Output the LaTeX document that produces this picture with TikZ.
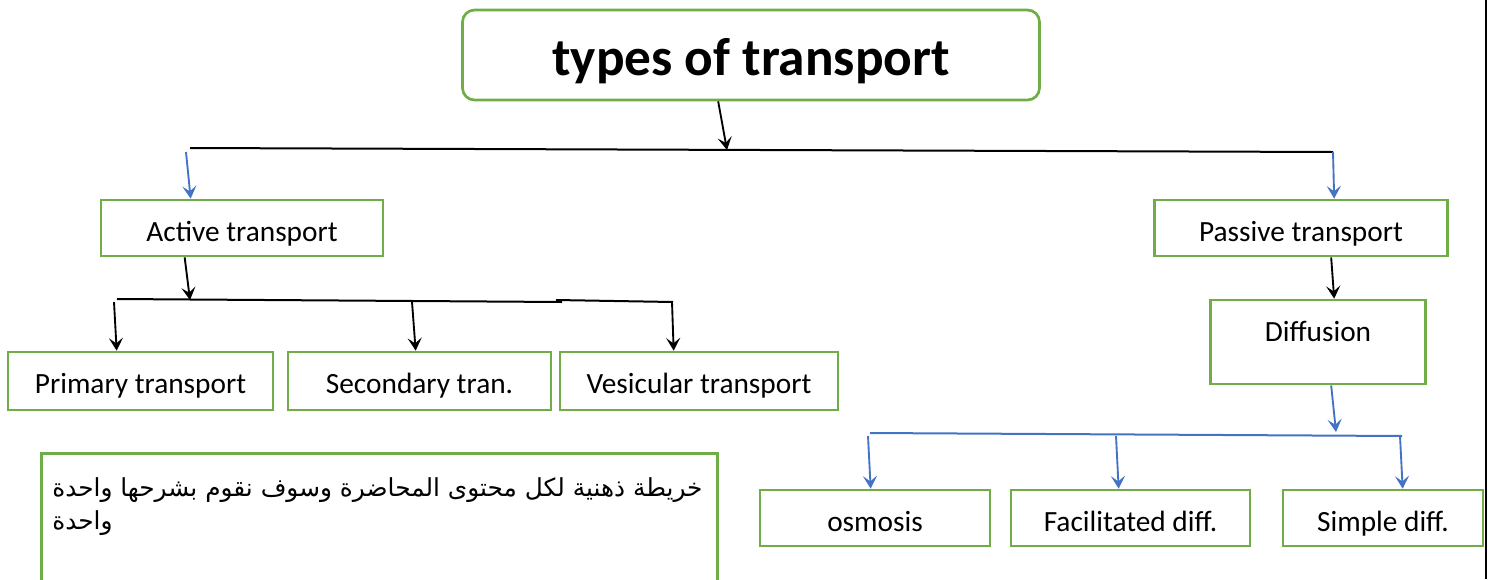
\documentclass[tikz,border=0pt]{standalone}
\usepackage{fontspec}
\setmainfont{Carlito}
\newfontfamily\arabicfont[Script=Arabic]{DejaVu Sans}
\TeXXeTstate=1
\usepackage{xcolor}
\usepackage{tikz}
\usetikzlibrary{arrows.meta,calc}

\definecolor{boxgreen}{HTML}{70AD47}
\definecolor{linkblue}{HTML}{4472C4}

\begin{document}
\begin{tikzpicture}[x=0.75pt, y=-0.75pt,
    box/.style={draw=boxgreen, line width=2pt, inner sep=0pt, text height=20pt, text depth=0pt,
                font=\fontsize{22}{26}\selectfont},
    tip/.style={-{Stealth[length=9.5pt, width=10.5pt, inset=4pt]}, line width=1.4pt},
    bar/.style={line width=1.5pt}]
    \useasboundingbox (0,0) rectangle (1488,579);

    % Title
    \node[box, rounded corners=9pt, minimum width=432.75pt, minimum height=67.5pt, text height=30pt,
          font=\fontsize{40}{46}\selectfont\bfseries] (title) at (751,55) {types of transport};

    % First level
    \node[box, minimum width=211.5pt, minimum height=42pt] (act) at (242,228) {Active transport};
    \node[box, minimum width=219.75pt, minimum height=42pt] (pas) at (1301,228) {Passive transport};
    \node[box, minimum width=161.25pt, minimum height=63pt, text depth=21.5pt] (dif) at (1318,342) {Diffusion};

    % Active transport kinds
    \node[box, minimum width=198.75pt, minimum height=43.5pt, text height=18pt] (pri) at (140.5,381) {Primary transport};
    \node[box, minimum width=197.25pt, minimum height=43.5pt, text height=18pt] (sec) at (419.5,381) {Secondary tran.};
    \node[box, minimum width=208.5pt, minimum height=43.5pt, text height=18pt] (ves) at (699,381) {Vesicular transport};

    % Diffusion kinds
    \node[box, minimum width=172.5pt, minimum height=42pt] (osm) at (875,518) {osmosis};
    \node[box, minimum width=179.25pt, minimum height=42pt] (fac) at (1130.5,518) {Facilitated diff.};
    \node[box, minimum width=150pt, minimum height=42pt] (sim) at (1383,518) {Simple diff.};

    % Note
    \node[box, minimum width=507pt, minimum height=120pt, anchor=north west] (note) at (40,452) {};
    \node[anchor=north west, align=left, inner sep=0pt,
          font=\arabicfont\fontsize{18.6}{25}\selectfont] (notetext) at ($(note.north west)+(12,25)$)
        {\beginR خريطة ذهنية لكل محتوى المحاضرة وسوف نقوم بشرحها واحدة\endR\\
         \beginR واحدة\endR};

    % Bars
    \coordinate (tl) at (190,148);
    \coordinate (tr) at (1333,152);
    \coordinate (tj) at (727,150);
    \coordinate (al) at (186,152);
    \draw[bar] (tl) -- (tr);

    \coordinate (ab) at (190,300);
    \coordinate (ba1) at (117,299);
    \coordinate (ba2) at (562,302);
    \coordinate (ba3) at (556,300);
    \coordinate (ba4) at (673,302);
    \draw[bar] (ba1) -- (ba2);
    \draw[bar] (ba3) -- (ba4);

    \coordinate (dj) at (1336,432);
    \coordinate (bd1) at (870,433);
    \coordinate (bd2) at (1402,436);
    \draw[bar, linkblue] (bd1) -- (bd2);

    % Arrows
    \draw[tip] ($(title.south west)+(257,0)$) -- (tj);
    \draw[tip, linkblue] (al) -- ($(act.north west)+(91,0)$);
    \draw[tip, linkblue] (tr) -- ($(pas.north west)+(181,0)$);

    \draw[tip] ($(act.south west)+(85,0)$) -- (ab);
    \draw[tip] (114,302) coordinate (pa) -- ($(pri.north west)+(110,0)$);
    \draw[tip] (412,302) coordinate (sa) -- ($(sec.north west)+(129,0)$);
    \draw[tip] (672,302) coordinate (va) -- ($(ves.north west)+(115,0)$);

    \draw[tip] ($(pas.south west)+(178,0)$) -- ($(dif.north west)+(125,0)$);
    \draw[tip, linkblue] ($(dif.south west)+(122,0)$) -- (dj);
    \draw[tip, linkblue] (868,436) coordinate (oa) -- ($(osm.north west)+(112,0)$);
    \draw[tip, linkblue] (1116,436) coordinate (fa) -- ($(fac.north west)+(109,0)$);
    \draw[tip, linkblue] (1400,436) coordinate (sa2) -- ($(sim.north west)+(121,0)$);

    % Page edge
    \draw[line width=1.2pt] (1486,0) -- (1486,579);
\end{tikzpicture}
\end{document}
